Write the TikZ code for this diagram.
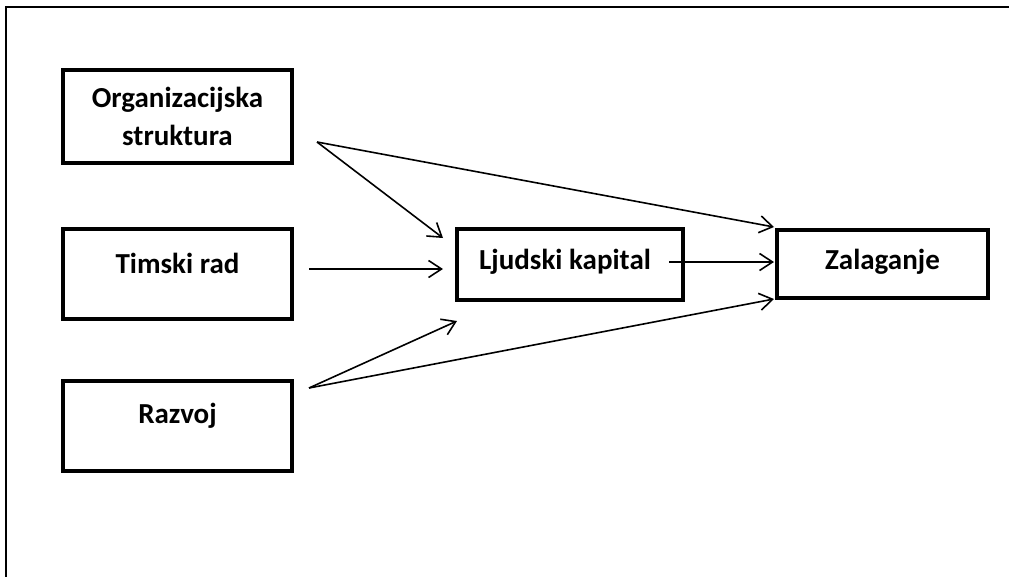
\documentclass[tikz,border=0pt]{standalone}
\usepackage{fontspec}
\setmainfont{Carlito}
\usetikzlibrary{arrows.meta}
\tikzset{
  box/.style={draw, line width=4pt, inner sep=0pt},
  lbl/.style={font=\fontsize{29}{38}\selectfont\bfseries, align=center, inner sep=0pt},
  conn/.style={line width=1.6pt, -{Straight Barb[length=13pt, width=17pt, line width=1.6pt]}},
  frame/.style={line width=2.5pt}
}
\begin{document}
\begin{tikzpicture}[x=1pt, y=-1pt]
\useasboundingbox (0,0) rectangle (1009,576);
% outer frame (left and top edges visible)
\coordinate (f1) at (6,580);
\coordinate (f2) at (6,7);
\coordinate (f3) at (1012,7);
\draw[frame] (f1) -- (f2) -- (f3);

% boxes
\node[box, minimum width=229pt, minimum height=93pt] (org) at (177.5,116.5) {};
\node[box, minimum width=229pt, minimum height=90pt] (tim) at (177.5,274) {};
\node[box, minimum width=229pt, minimum height=90pt] (raz) at (177.5,426) {};
\node[box, minimum width=226pt, minimum height=71pt] (lju) at (570,264.5) {};
\node[box, minimum width=211pt, minimum height=68pt] (zal) at (882.5,264) {};

% texts
\node[lbl] (orgt) at (177.5,116) {Organizacijska\\struktura};
\node[lbl] (timt) at (177.5,263) {Timski rad};
\node[lbl] (razt) at (177.5,416) {Razvoj};
\node[lbl] (ljut) at (565,262) {Ljudski kapital};
\node[lbl] (zalt) at (882.5,262) {Zalaganje};

% connector end points
\coordinate (o1) at (317,142);
\coordinate (t1) at (309,269);
\coordinate (r1) at (309,388);
\coordinate (l1) at (669,262);
\coordinate (lin1) at (443,238);
\coordinate (lin2) at (443,269);
\coordinate (lin3) at (457,321);
\coordinate (zin1) at (774,227);
\coordinate (zin2) at (774,262);
\coordinate (zin3) at (774,299);

\draw[conn] (o1) -- (lin1);
\draw[conn] (o1) -- (zin1);
\draw[conn] (t1) -- (lin2);
\draw[conn] (l1) -- (zin2);
\draw[conn] (r1) -- (lin3);
\draw[conn] (r1) -- (zin3);
\end{tikzpicture}
\end{document}
